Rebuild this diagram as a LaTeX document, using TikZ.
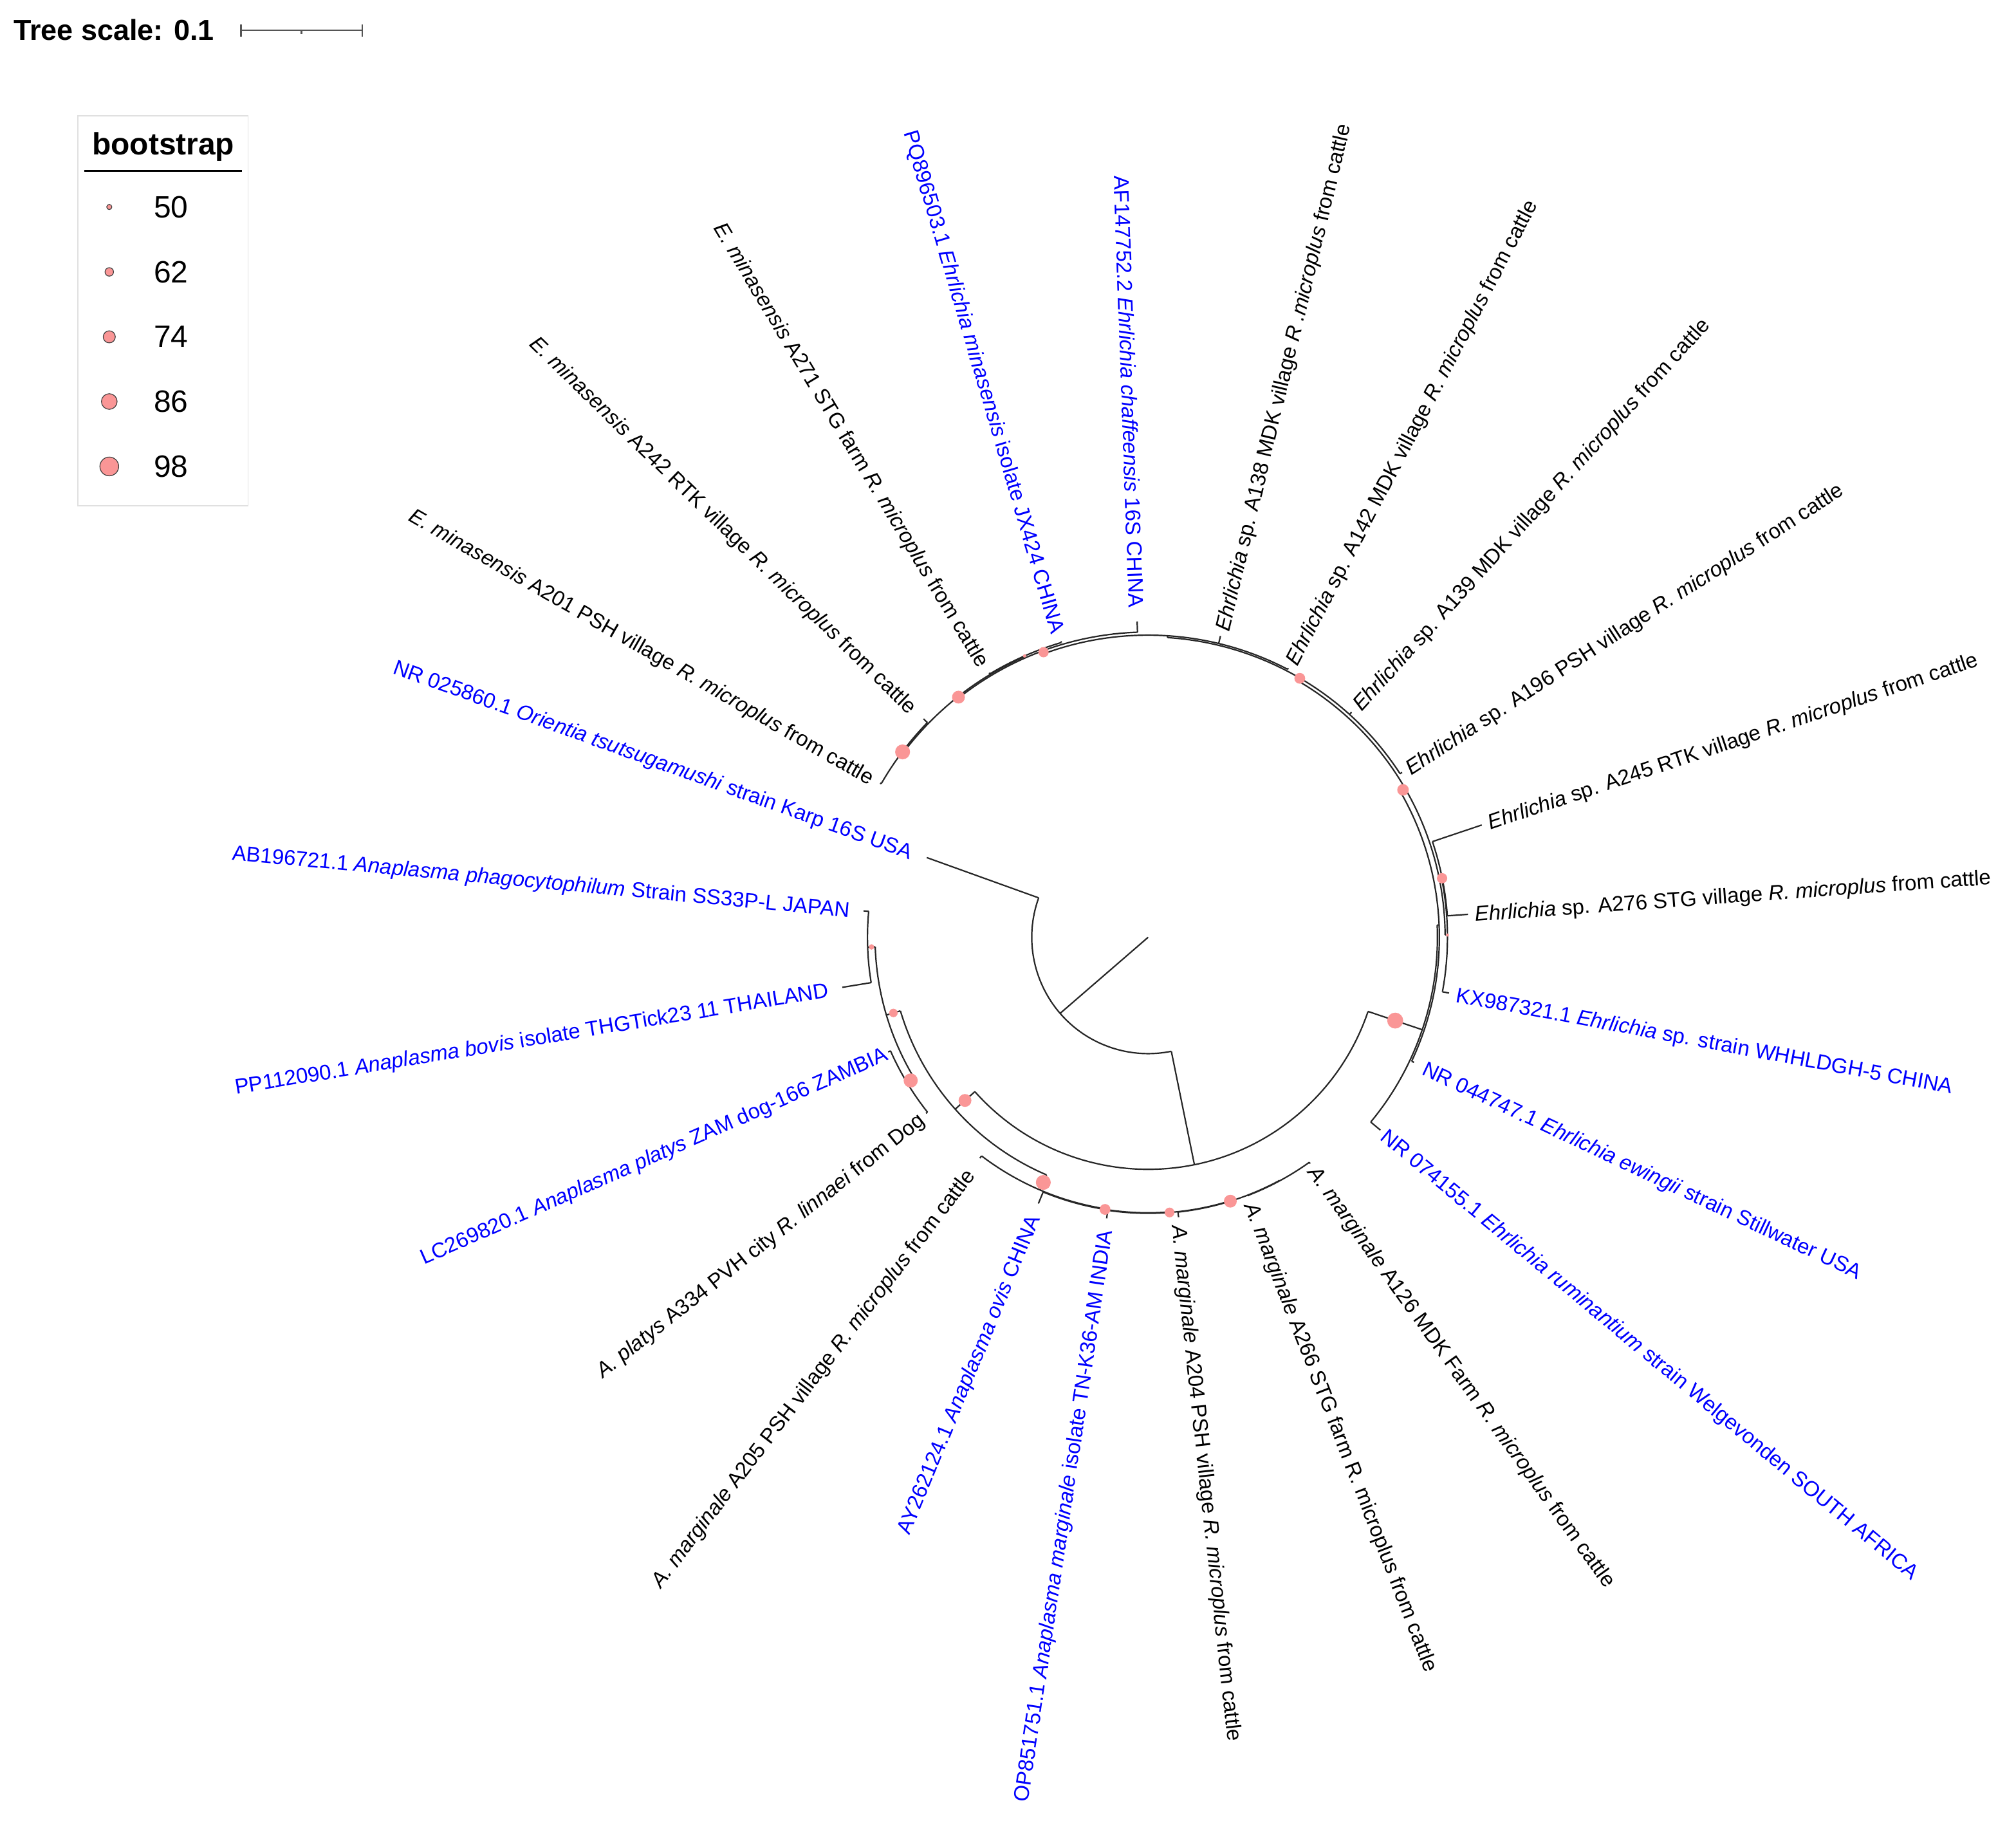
\documentclass[tikz,border=0pt]{standalone}
\usepackage{fontspec}
\setmainfont{Liberation Sans}
\definecolor{bootpink}{RGB}{250,150,150}
\definecolor{refblue}{RGB}{0,0,255}
\definecolor{scalegrey}{RGB}{85,85,85}
% radial branch: angle, inner radius, outer radius
\newcommand{\rbranch}[3]{\draw[branch] (#1:#2pt) -- (#1:#3pt);}
% arc branch: radius, start angle, end angle
\newcommand{\cbranch}[3]{\draw[branch] (#2:#1pt) arc[start angle=#2, end angle=#3, radius=#1pt];}
% bootstrap symbol: angle, radius, size
\newcommand{\bootdot}[3]{\fill[bootpink] (#1:#2pt) circle[radius=#3pt];}

\begin{document}
\begin{tikzpicture}[x=1pt,y=1pt,
  branch/.style={line width=1.1pt,black!85},
  leafR/.style={anchor=west,inner sep=0pt,text height=11.8pt,text depth=0pt,font=\fontsize{16.5}{18}\selectfont},
  leafL/.style={leafR,anchor=east},
  refseq/.style={text=refblue}]
\useasboundingbox (-893,-687) rectangle (675,729);
%
% tree scale
\node[anchor=base west,inner sep=0pt,font=\fontsize{22.5}{26}\selectfont\bfseries] (treescale) at (-882.5,697.7) {Tree scale: 0.1};
\draw[scalegrey,line width=1.3pt] (-705.5,705.4) -- (-611.3,705.4);
\draw[scalegrey,line width=1.3pt] (-705.5,700.6) -- (-705.5,710.2);
\draw[scalegrey,line width=1.3pt] (-611.3,700.6) -- (-611.3,710.2);
\draw[scalegrey,line width=1.3pt] (-658.4,705.4) -- (-658.4,702.4);
%
% legend
\draw[black!12,line width=0.8pt] (-832.5,335.5) rectangle (-700,639);
\node[anchor=base,inner sep=0pt,font=\fontsize{24}{28}\selectfont\bfseries] (legtitle) at (-766,608.5) {bootstrap};
\draw[line width=1.2pt] (-827.6,596.2) -- (-705,596.2);
\foreach \v/\y/\r in {50/568/2,62/517.5/3.3,74/467/4.7,86/416.7/6.1,98/366.2/7.3} {
    \filldraw[fill=bootpink,draw=black!75,line width=0.6pt] (-808,\y) circle[radius=\r pt];
    \node[font=\fontsize{24}{28}\selectfont] (leg\v) at (-760,\y) {\v};
}
%
% root and backbone
\draw[branch] (0,0) -- (220.85:90.5pt);
\cbranch{90.5}{160.2}{281.5}
\rbranch{160.2}{90.5}{183}
\rbranch{281.5}{90.5}{180.5}
\cbranch{180.5}{221.7}{341.36}
%
% Anaplasma
\rbranch{221.7}{180.5}{201}
\cbranch{201}{196.55}{246.85}
\rbranch{196.55}{201}{212.4}
\cbranch{212.4}{182}{211.1}
\rbranch{182}{212.4}{218.3}
\cbranch{218.3}{174.7}{189.3}
\rbranch{174.7}{218.3}{222.3}
\rbranch{189.3}{218.3}{241}
\rbranch{211.1}{212.4}{219}
\cbranch{219}{203.8}{218.4}
\rbranch{203.8}{219}{221}
\rbranch{218.4}{219}{220.5}
\rbranch{246.85}{201}{213.8}
\cbranch{213.8}{232.7}{261}
\rbranch{232.7}{213.8}{216}
\rbranch{261}{213.8}{214.3}
\cbranch{214.3}{247.6}{274.45}
\rbranch{247.6}{214.3}{224}
\rbranch{274.45}{214.3}{214.7}
\cbranch{214.7}{261.6}{287.3}
\rbranch{261.6}{214.7}{221}
\rbranch{287.3}{214.7}{215}
\cbranch{215}{276.2}{298.4}
\rbranch{276.2}{215}{219}
\rbranch{298.4}{215}{215.3}
\cbranch{215.3}{291.2}{305.6}
\rbranch{291.2}{215.3}{216}
\rbranch{305.6}{215.3}{216.5}
%
% Ehrlichia
\rbranch{341.36}{180.5}{225}
\cbranch{225}{320.3}{362.42}
\rbranch{320.3}{225}{234.8}
\rbranch{2.42}{225}{226.5}
\cbranch{226.5}{-25.2}{30.04}
\rbranch{334.8}{226.5}{228.5}
\rbranch{30.04}{226.5}{231}
\cbranch{231}{0.43}{59.65}
\rbranch{0.43}{231}{232.8}
\cbranch{232.8}{-10.5}{11.35}
\rbranch{-10.5}{232.8}{238}
\rbranch{11.35}{232.8}{233.3}
\cbranch{233.3}{4.1}{18.6}
\rbranch{4.1}{233.3}{249.4}
\rbranch{18.6}{233.3}{273.8}
\rbranch{59.65}{231}{233.6}
\cbranch{233.6}{33}{86.3}
\rbranch{33}{233.6}{235.5}
\rbranch{47.9}{233.6}{236}
\rbranch{86.3}{233.6}{235}
\cbranch{235}{62.5}{110.15}
\rbranch{62.5}{235}{236}
\rbranch{76.5}{235}{241}
\rbranch{110.15}{235}{237.4}
\cbranch{237.4}{92}{128.3}
\rbranch{92}{237.4}{245.8}
\rbranch{128.3}{237.4}{238.5}
\cbranch{238.5}{113.7}{142.95}
\rbranch{113.7}{238.5}{239}
\cbranch{239}{106.4}{121}
\rbranch{106.4}{239}{240}
\rbranch{121}{239}{240}
\rbranch{142.95}{238.5}{239.5}
\cbranch{239.5}{135.8}{150.1}
\rbranch{135.8}{239.5}{243.7}
\rbranch{150.1}{239.5}{240.5}
%
% bootstrap symbols
\bootdot{221.7}{190.8}{5}
\bootdot{196.55}{206.7}{3.3}
\bootdot{182}{215.3}{2.1}
\bootdot{211.1}{215.7}{5.5}
\bootdot{246.85}{207.4}{5.8}
\bootdot{261}{214.3}{4.2}
\bootdot{274.45}{214.7}{3.8}
\bootdot{287.3}{215}{5}
\bootdot{341.36}{202.8}{6.2}
\bootdot{30.04}{229}{4.5}
\bootdot{0.43}{232.8}{1.2}
\bootdot{11.35}{233.2}{4}
\bootdot{59.65}{233.4}{4.2}
\bootdot{110.15}{236.2}{4}
\bootdot{128.3}{238}{5}
\bootdot{113.7}{239}{1.3}
\bootdot{142.95}{239.3}{5.8}
%
% labels, right half
\node[leafR,rotate=4.1] (lA276) at (4.1:254.5pt) {\textit{Ehrlichia} sp. A276 STG village \textit{R. microplus} from cattle};
\node[leafR,rotate=18.6] (lA245) at (18.6:279pt) {\textit{Ehrlichia} sp. A245 RTK village \textit{R. microplus} from cattle};
\node[leafR,rotate=33] (lA196) at (33:240pt) {\textit{Ehrlichia} sp. A196 PSH village \textit{R. microplus} from cattle};
\node[leafR,rotate=47.9] (lA139) at (47.9:241pt) {\textit{Ehrlichia} sp. A139 MDK village \textit{R. microplus} from cattle};
\node[leafR,rotate=62.5] (lA142) at (62.5:240pt) {\textit{Ehrlichia} sp. A142 MDK village \textit{R. microplus} from cattle};
\node[leafR,rotate=76.5] (lA138) at (76.5:245pt) {\textit{Ehrlichia} sp. A138 MDK village \textit{R .microplus} from cattle};
\node[leafR,refseq,rotate=-10.5] (lKX) at (-10.5:244pt) {KX987321.1 \textit{Ehrlichia} sp. strain WHHLDGH-5 CHINA};
\node[leafR,refseq,rotate=-25.2] (lNR044) at (-25.2:237pt) {NR 044747.1 \textit{Ehrlichia ewingii} strain Stillwater USA};
\node[leafR,refseq,rotate=-39.7] (lNR074) at (-39.7:238.5pt) {NR 074155.1 \textit{Ehrlichia ruminantium} strain Welgevonden SOUTH AFRICA};
\node[leafR,rotate=-54.4] (lA126) at (-54.4:221pt) {\textit{A. marginale} A126 MDK Farm \textit{R. microplus} from cattle};
\node[leafR,rotate=-68.8] (lA266) at (-68.8:221.7pt) {\textit{A. marginale} A266 STG farm R. microplus from cattle};
\node[leafR,rotate=-83.8] (lA204) at (-83.8:225pt) {\textit{A. marginale} A204 PSH village \textit{R. microplus} from cattle};
%
% labels, left half
\node[leafL,refseq,rotate=81.6] (lOP) at (261.6:230pt) {OP851751.1 \textit{Anaplasma marginale} isolate TN-K36-AM INDIA};
\node[leafL,refseq,rotate=67.6] (lAY) at (247.6:234pt) {AY262124.1 \textit{Anaplasma ovis} CHINA};
\node[leafL,rotate=52.7] (lA205) at (232.7:229pt) {\textit{A. marginale} A205 PSH village \textit{R. microplus} from cattle};
\node[leafL,rotate=38.4] (lA334) at (218.4:225pt) {\textit{A. platys} A334 PVH city \textit{R. linnaei} from Dog};
\node[leafL,refseq,rotate=23.8] (lLC) at (203.8:222.5pt) {LC269820.1 \textit{Anaplasma platys} ZAM dog-166 ZAMBIA};
\node[leafL,refseq,rotate=9.3] (lPP) at (189.3:252pt) {PP112090.1 \textit{Anaplasma bovis} isolate THGTick23 11 THAILAND};
\node[leafL,refseq,rotate=-5.3] (lAB) at (174.7:233pt) {AB196721.1 \textit{Anaplasma phagocytophilum} Strain SS33P-L JAPAN};
\node[leafL,refseq,rotate=-19.8] (lNR025) at (160.2:195pt) {NR 025860.1 \textit{Orientia tsutsugamushi} strain Karp 16S USA};
\node[leafL,rotate=-29.9] (lA201) at (150.1:247pt) {\textit{E. minasensis} A201 PSH village \textit{R. microplus} from cattle};
\node[leafL,rotate=-44.2] (lA242) at (135.8:254pt) {\textit{E. minasensis} A242 RTK village \textit{R. microplus} from cattle};
\node[leafL,rotate=-59] (lA271) at (121:247pt) {\textit{E. minasensis} A271 STG farm \textit{R. microplus} from cattle};
\node[leafL,refseq,rotate=-73.6] (lPQ) at (106.4:246.6pt) {PQ896503.1 \textit{Ehrlichia minasensis} isolate JX424 CHINA};
\node[leafL,refseq,rotate=-88] (lAF) at (92:256.6pt) {AF147752.2 \textit{Ehrlichia chaffeensis} 16S CHINA};
\end{tikzpicture}
\end{document}
